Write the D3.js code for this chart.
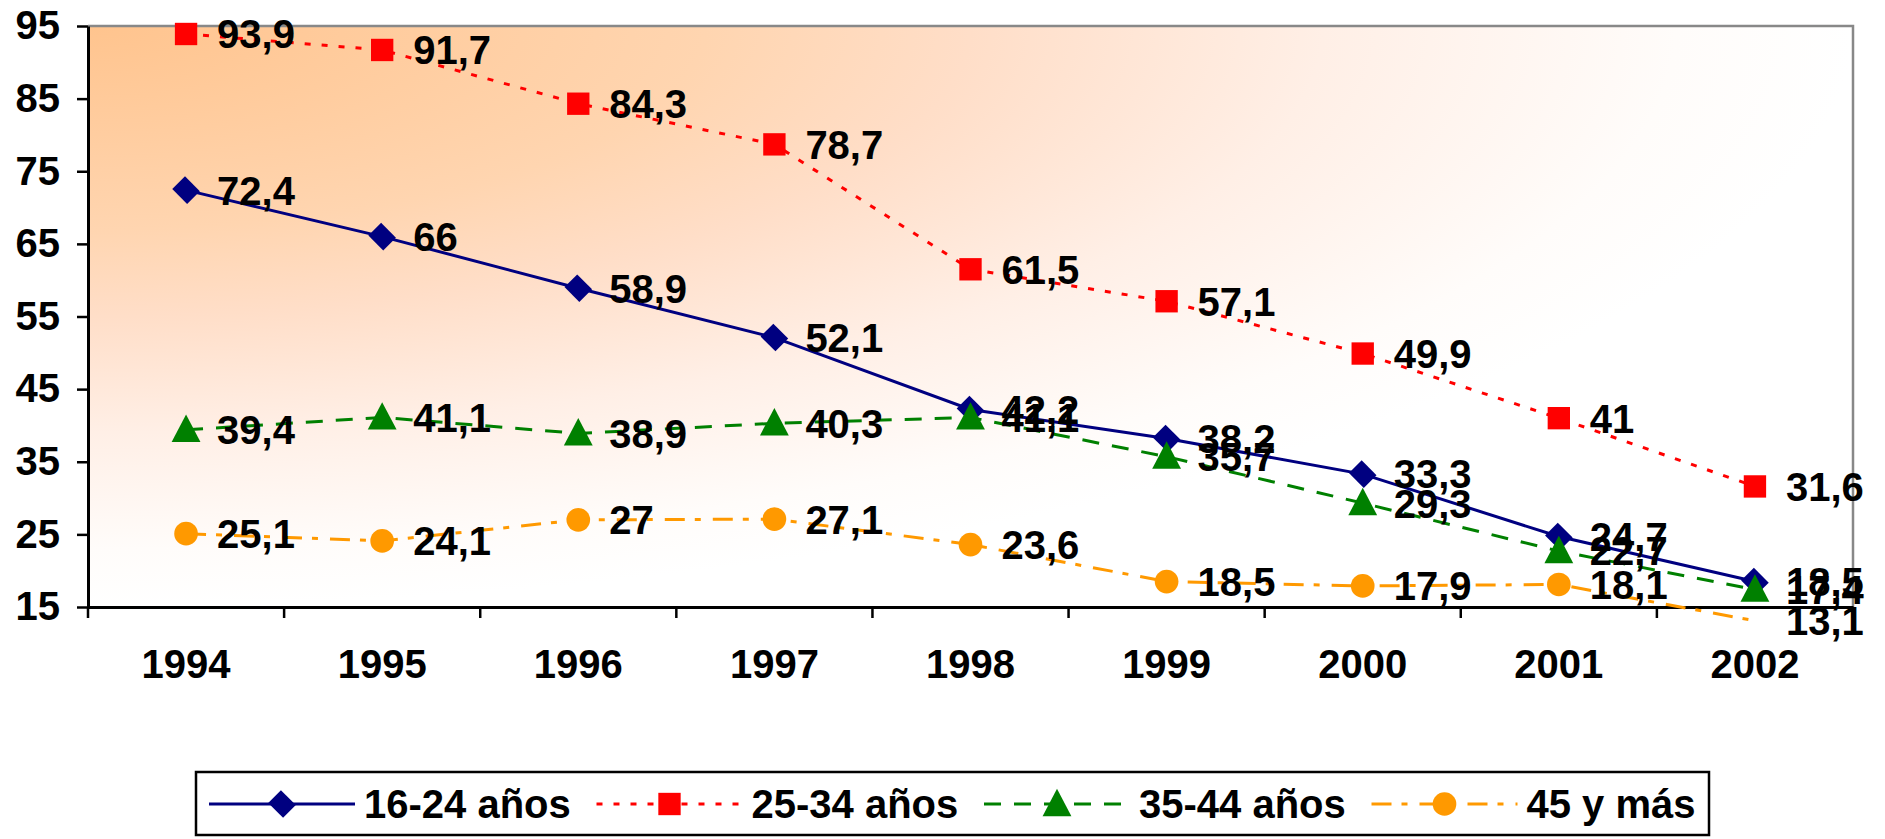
<!DOCTYPE html>
<html>
<head>
<meta charset="utf-8">
<script src="https://cdn.jsdelivr.net/npm/d3@7"></script>
<style>
  body { margin: 0; background: #fff; }
  text { font-family: "Liberation Sans", Arial, sans-serif; font-weight: bold; }
</style>
</head>
<body>
<div id="chart"></div>
<script>
// data
const years = ['1994', '1995', '1996', '1997', '1998', '1999', '2000', '2001', '2002']
const yTicks = [15, 25, 35, 45, 55, 65, 75, 85, 95]
const seriesNames = ['16-24 años', '25-34 años', '35-44 años', '45 y más']
const age16 = [72.4, 66, 58.9, 52.1, 42.2, 38.2, 33.3, 24.7, 18.5]
const age25 = [93.9, 91.7, 84.3, 78.7, 61.5, 57.1, 49.9, 41, 31.6]
const age35 = [39.4, 41.1, 38.9, 40.3, 41.1, 35.7, 29.3, 22.7, 17.4]
const age45 = [25.1, 24.1, 27, 27.1, 23.6, 18.5, 17.9, 18.1, 13.1]

const width = 1885
const height = 839
const plot = { left: 88, top: 26, right: 1853, bottom: 607 }
const fontSize = 40

const styles = [
  { color: '#000080', dash: null, symbol: 'diamond' },
  { color: '#FF0000', dash: '6,11', symbol: 'square' },
  { color: '#008000', dash: '17,13', symbol: 'triangle' },
  { color: '#FF9900', dash: '20,10,6,12', symbol: 'circle' }
]
const allValues = [age16, age25, age35, age45]

const svg = d3.select('#chart').append('svg')
  .attr('width', width)
  .attr('height', height)

// corner gradient of the plot area
const grad = svg.append('defs').append('radialGradient')
  .attr('id', 'bg')
  .attr('cx', 0).attr('cy', 0).attr('r', 1).attr('fx', 0).attr('fy', 0)
const stops = [[0, '#FFC48E'], [0.35, '#FFD5B0'], [0.5, '#FFDEC8'], [0.7, '#FFEFE6'], [0.9, '#FFFCFA'], [1, '#FFFFFF']]
stops.forEach(s => grad.append('stop').attr('offset', s[0]).attr('stop-color', s[1]))

const x = d3.scaleBand()
  .domain(years)
  .range([plot.left, plot.right])

const y = d3.scaleLinear()
  .domain([15, 95])
  .range([plot.bottom, plot.top])

const cx = d => x(d) + x.bandwidth() / 2

svg.append('rect')
  .attr('x', plot.left)
  .attr('y', plot.top)
  .attr('width', plot.right - plot.left)
  .attr('height', plot.bottom - plot.top)
  .attr('fill', 'url(#bg)')

// grey frame on top and right
svg.append('path')
  .attr('d', `M${plot.left},${plot.top}H${plot.right}V${plot.bottom}`)
  .attr('fill', 'none')
  .attr('stroke', '#888')
  .attr('stroke-width', 2.5)

// y axis
const yAxis = svg.append('g')
  .attr('transform', `translate(${plot.left},0)`)
  .call(d3.axisLeft(y).tickValues(yTicks).tickSize(11).tickSizeOuter(0).tickPadding(17))
yAxis.select('.domain').attr('stroke', '#000').attr('stroke-width', 3)
yAxis.selectAll('.tick line').attr('stroke', '#000').attr('stroke-width', 2.5)
yAxis.selectAll('.tick text')
  .attr('font-size', fontSize)
  .attr('font-family', null)
  .attr('fill', '#000')

// x axis, labels in the middle, ticks between categories
const xAxis = svg.append('g')
  .attr('transform', `translate(0,${plot.bottom})`)
  .call(d3.axisBottom(x).tickSize(0).tickSizeOuter(0).tickPadding(43))
xAxis.select('.domain').attr('stroke', '#000').attr('stroke-width', 3)
xAxis.selectAll('.tick text')
  .attr('font-size', fontSize)
  .attr('font-family', null)
  .attr('fill', '#000')

const edges = years.map(d => x(d)).concat([x.range()[1]])
xAxis.selectAll('.edge')
  .data(edges)
  .join('line')
  .attr('x1', d => d).attr('x2', d => d)
  .attr('y1', 0).attr('y2', 11)
  .attr('stroke', '#000')
  .attr('stroke-width', 2.5)

const makeSymbol = (name) => {
  if (name === 'diamond') return d3.symbol(d3.symbolSquare, 400)()
  if (name === 'square') return d3.symbol(d3.symbolSquare, 500)()
  if (name === 'triangle') return d3.symbol(d3.symbolTriangle, 360)()
  return d3.symbol(d3.symbolCircle, 440)()
}
const symbolTransform = (name, px, py) => {
  if (name === 'diamond') return `translate(${px},${py}) rotate(45) scale(1.05,0.9)`
  if (name === 'triangle') return `translate(${px},${py + 3}) scale(1,1.1)`
  return `translate(${px},${py})`
}

const line = d3.line()
  .x(d => cx(d.year))
  .y(d => y(d.value))

const seriesData = allValues.map(vals => vals.map((v, i) => ({ year: years[i], value: v })))

// lines and markers
seriesData.forEach((data, i) => {
  const st = styles[i]
  svg.append('path')
    .datum(data)
    .attr('d', line)
    .attr('fill', 'none')
    .attr('stroke', st.color)
    .attr('stroke-width', 3)
    .attr('stroke-dasharray', st.dash)

  // the 13,1 point is under the axis minimum: no marker there
  svg.append('g')
    .selectAll('path')
    .data(data.filter(d => d.value >= y.domain()[0]))
    .join('path')
    .attr('d', makeSymbol(st.symbol))
    .attr('transform', d => symbolTransform(st.symbol, cx(d.year), y(d.value)))
    .attr('fill', st.color)
})

// data labels on top
seriesData.forEach((data) => {
  svg.append('g')
    .selectAll('text')
    .data(data)
    .join('text')
    .attr('x', d => cx(d.year) + 31)
    .attr('y', d => y(d.value))
    .attr('dy', '0.36em')
    .attr('font-size', fontSize)
    .attr('fill', '#000')
    .text(d => String(d.value).replace('.', ','))
})

// legend
svg.append('rect')
  .attr('x', 196)
  .attr('y', 772)
  .attr('width', 1513)
  .attr('height', 63)
  .attr('fill', '#fff')
  .attr('stroke', '#000')
  .attr('stroke-width', 2.5)

const legend = svg.append('g')
const legendY = 804
seriesNames.forEach((name, i) => {
  const st = styles[i]
  const x0 = 209 + i * 387.5
  legend.append('line')
    .attr('x1', x0).attr('x2', x0 + 146)
    .attr('y1', legendY).attr('y2', legendY)
    .attr('stroke', st.color)
    .attr('stroke-width', 3)
    .attr('stroke-dasharray', st.dash)
  legend.append('path')
    .attr('d', makeSymbol(st.symbol))
    .attr('transform', symbolTransform(st.symbol, x0 + 73, legendY))
    .attr('fill', st.color)
  legend.append('text')
    .attr('x', x0 + 155)
    .attr('y', legendY)
    .attr('dy', '0.36em')
    .attr('font-size', fontSize)
    .attr('fill', '#000')
    .text(name)
})
</script>
</body>
</html>
